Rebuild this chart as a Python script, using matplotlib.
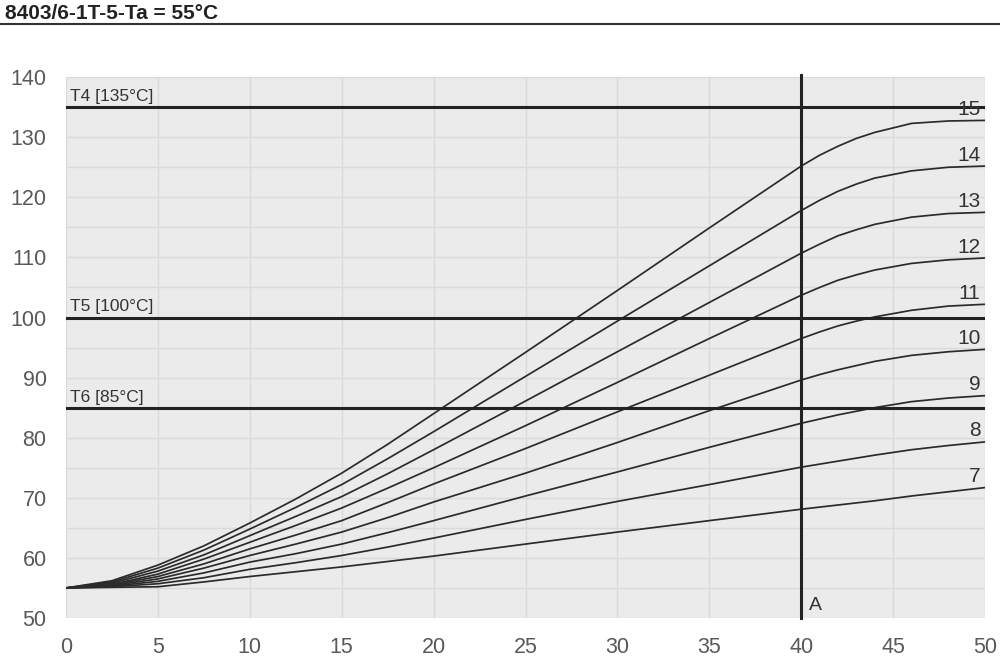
import matplotlib.pyplot as plt
from matplotlib.lines import Line2D

plt.rcParams['font.family'] = ['Liberation Sans', 'DejaVu Sans']

x = [0, 2.5, 5, 7.5, 10, 12.5, 15, 17.5, 20, 25, 30, 35, 40, 41, 42, 43, 44, 46, 48, 50]
curves = {
    15: [55, 56.2, 58.8, 62.0, 65.8, 69.8, 74.1, 78.9, 84.0, 94.2, 104.5, 114.9, 125.2, 127.0, 128.5, 129.8, 130.8, 132.3, 132.7, 132.8],
    14: [55, 56.0, 58.3, 61.3, 64.8, 68.4, 72.2, 76.5, 81.0, 90.2, 99.4, 108.6, 117.8, 119.5, 121.0, 122.2, 123.2, 124.4, 125.0, 125.2],
    13: [55, 55.8, 57.8, 60.5, 63.7, 66.9, 70.2, 74.0, 78.0, 86.1, 94.3, 102.5, 110.7, 112.2, 113.6, 114.6, 115.5, 116.7, 117.3, 117.5],
    12: [55, 55.6, 57.3, 59.8, 62.6, 65.4, 68.3, 71.6, 75.0, 82.0, 89.2, 96.5, 103.7, 105.0, 106.2, 107.1, 107.9, 109.0, 109.6, 109.9],
    11: [55, 55.5, 56.9, 59.0, 61.5, 63.8, 66.2, 69.2, 72.3, 78.2, 84.3, 90.4, 96.5, 97.6, 98.6, 99.4, 100.1, 101.2, 101.9, 102.2],
    10: [55, 55.4, 56.5, 58.3, 60.4, 62.3, 64.3, 66.7, 69.3, 74.1, 79.2, 84.5, 89.6, 90.5, 91.3, 92.0, 92.7, 93.7, 94.3, 94.7],
    9: [55, 55.3, 56.1, 57.5, 59.3, 60.7, 62.3, 64.2, 66.2, 70.3, 74.3, 78.4, 82.4, 83.1, 83.8, 84.4, 85.0, 86.0, 86.6, 87.0],
    8: [55, 55.2, 55.7, 56.7, 58.1, 59.2, 60.4, 61.8, 63.3, 66.4, 69.4, 72.2, 75.1, 75.6, 76.1, 76.6, 77.1, 78.0, 78.7, 79.3],
    7: [55, 55.1, 55.2, 56.0, 56.9, 57.7, 58.5, 59.4, 60.3, 62.3, 64.3, 66.2, 68.1, 68.45, 68.8, 69.15, 69.5, 70.3, 71.0, 71.7],
}
limits = [135, 100, 85]
limit_labels = ["T4 [135°C]", "T5 [100°C]", "T6 [85°C]"]
x_mark = 40
x_ticks = [0, 5, 10, 15, 20, 25, 30, 35, 40, 45, 50]
y_ticks = [50, 60, 70, 80, 90, 100, 110, 120, 130, 140]

fig = plt.figure(figsize=(10, 6.58), dpi=100)
ax = fig.add_axes([0.066, 0.0608, 0.919, 0.822])
ax.set_facecolor('#ebebeb')

# title with rule underneath
fig.text(0.005, 0.971, "8403/6-1T-5-Ta = 55°C", fontsize=15, fontweight='bold',
         color='#222222', va='baseline')
fig.add_artist(Line2D([0, 1], [0.9635, 0.9635], color='#333333', lw=1.5))

for n, ys in curves.items():
    ax.plot(x, ys, color='#2b2b2b', lw=1.25)
    ax.text(49.75, ys[-1] + 0.9, str(n), ha='right', va='baseline',
            fontsize=15, color='#333333')

for val, lab in zip(limits, limit_labels):
    ax.axhline(val, color='#222222', lw=2.2)
    ax.text(0.2, val + 1.0, lab, fontsize=12.5, color='#333333', va='baseline')

ax.plot([x_mark, x_mark], [50, 140.4], color='#222222', lw=2.2, clip_on=False)
ax.text(x_mark + 0.4, 51.3, "A", fontsize=14, color='#333333', va='baseline')

ax.set_xlim(0, 50)
ax.set_ylim(50, 140)
ax.set_xticks(x_ticks)
ax.set_yticks(y_ticks)
ax.set_yticks(range(55, 140, 10), minor=True)
ax.grid(True, which='both', color='#dadada', lw=1)
ax.set_axisbelow(True)
ax.tick_params(which='both', length=0)
ax.tick_params(axis='x', pad=14, labelsize=15.5, labelcolor='#595959')
ax.tick_params(axis='y', pad=14, labelsize=15.5, labelcolor='#595959')
for s in ax.spines.values():
    s.set_visible(False)

fig.savefig('out.png', dpi=100)
